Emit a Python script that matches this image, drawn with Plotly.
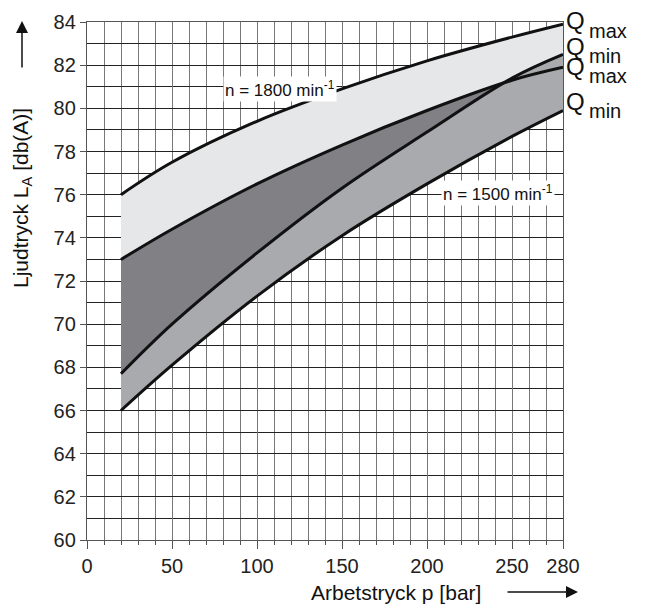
import plotly.graph_objects as go

# ---- data ----
pressure = [20, 50, 100, 150, 200, 250, 280]
n1800_qmax = [76.0, 77.5, 79.4, 80.9, 82.2, 83.3, 83.9]
n1800_qmin = [73.0, 74.4, 76.5, 78.3, 79.9, 81.3, 81.9]
n1500_qmax = [67.7, 70.0, 73.3, 76.3, 78.9, 81.4, 82.5]
n1500_qmin = [66.0, 68.1, 71.3, 74.1, 76.5, 78.7, 79.9]

x_tickvals = [0, 50, 100, 150, 200, 250, 280]
y_tickvals = list(range(60, 86, 2))

W, H = 669, 608
L, R, T, B = 87, 563, 22, 540
FONT = "Liberation Sans, Arial, sans-serif"

def px(xp):
    return (xp - L) / (R - L)

def py(yp):
    return (B - yp) / (B - T)

LIGHT = "#e6e7e9"
DARK = "#808085"
MED = "#a9aaae"

fig = go.Figure()
# fills (no lines)
fig.add_trace(go.Scatter(x=pressure, y=n1800_qmax, mode="lines", line=dict(width=0, shape="spline"),
                         showlegend=False, hoverinfo="skip"))
fig.add_trace(go.Scatter(x=pressure, y=n1800_qmin, mode="lines", line=dict(width=0, shape="spline"),
                         fill="tonexty", fillcolor=LIGHT, showlegend=False, hoverinfo="skip"))
fig.add_trace(go.Scatter(x=pressure, y=n1500_qmax, mode="lines", line=dict(width=0, shape="spline"),
                         fill="tonexty", fillcolor=DARK, showlegend=False, hoverinfo="skip"))
fig.add_trace(go.Scatter(x=pressure, y=n1500_qmin, mode="lines", line=dict(width=0, shape="spline"),
                         fill="tonexty", fillcolor=MED, showlegend=False, hoverinfo="skip"))
# curves
for ys in [n1800_qmax, n1800_qmin, n1500_qmax, n1500_qmin]:
    fig.add_trace(go.Scatter(x=pressure, y=ys, mode="lines",
                             line=dict(color="#111111", width=3, shape="spline"),
                             showlegend=False, hoverinfo="skip"))

annotations = []
# curve labels
annotations.append(dict(x=px(280), y=py(89), xref="paper", yref="paper", text="n = 1800 min<sup>-1</sup>",
                        showarrow=False, xanchor="center", yanchor="middle",
                        font=dict(family=FONT, size=17, color="#111"),
                        bgcolor="white", borderpad=1))
annotations.append(dict(x=px(498), y=py(193), xref="paper", yref="paper", text="n = 1500 min<sup>-1</sup>",
                        showarrow=False, xanchor="center", yanchor="middle",
                        font=dict(family=FONT, size=17, color="#111"),
                        bgcolor="white", borderpad=1))
# Q labels on the right
q_labels = [("max", 20, 31), ("min", 46, 56), ("max", 66, 76), ("min", 101, 111)]
for sub, qy, sy in q_labels:
    annotations.append(dict(x=px(564), y=py(qy), xref="paper", yref="paper", text="Q",
                            showarrow=False, xanchor="left", yanchor="middle",
                            font=dict(family=FONT, size=24, color="#111")))
    annotations.append(dict(x=px(587), y=py(sy), xref="paper", yref="paper", text=sub,
                            showarrow=False, xanchor="left", yanchor="middle",
                            font=dict(family=FONT, size=20, color="#111")))
# axis titles
annotations.append(dict(x=px(22), y=py(198), xref="paper", yref="paper",
                        text="Ljudtryck L<sub>A</sub> [db(A)]", textangle=-90, showarrow=False,
                        xanchor="center", yanchor="middle",
                        font=dict(family=FONT, size=21, color="#111")))
annotations.append(dict(x=px(396), y=py(592), xref="paper", yref="paper",
                        text="Arbetstryck p [bar]", showarrow=False,
                        xanchor="center", yanchor="middle",
                        font=dict(family=FONT, size=21, color="#111")))
# arrows
annotations.append(dict(x=px(22), y=py(21), xref="paper", yref="paper", text="",
                        showarrow=True, ax=0, ay=48, arrowhead=2, arrowsize=1.6,
                        arrowwidth=1.5, arrowcolor="#111"))
annotations.append(dict(x=px(578), y=py(592), xref="paper", yref="paper", text="",
                        showarrow=True, ax=-72, ay=0, arrowhead=2, arrowsize=1.6,
                        arrowwidth=1.5, arrowcolor="#111"))

fig.update_layout(
    width=W, height=H,
    margin=dict(l=L, r=W - R, t=T, b=H - B, pad=0),
    plot_bgcolor="white", paper_bgcolor="white",
    showlegend=False,
    annotations=annotations,
    font=dict(family=FONT, size=20, color="#222"),
)
fig.update_xaxes(
    range=[0, 280], tickvals=x_tickvals, ticktext=[str(v) for v in x_tickvals],
    showgrid=True, gridcolor="#777777", gridwidth=1.3,
    ticks="outside", ticklen=8, tickcolor="#555", tickwidth=1.3,
    showline=True, linecolor="#555", linewidth=1.3, mirror=True,
    minor=dict(dtick=10, tick0=0, showgrid=True, gridcolor="#777777", gridwidth=1.3,
               ticks="outside", ticklen=4, tickcolor="#555"),
    layer="above traces", zeroline=False,
    tickfont=dict(family=FONT, size=20, color="#222"),
)
fig.update_yaxes(
    range=[60, 84], tickvals=y_tickvals,
    showgrid=True, gridcolor="#222222", gridwidth=1,
    ticks="outside", ticklen=6, tickcolor="#555", tickwidth=1.3,
    showline=True, linecolor="#555", linewidth=1.3, mirror=True,
    minor=dict(dtick=1, tick0=60, showgrid=True, gridcolor="#222222", gridwidth=1),
    layer="above traces", zeroline=False,
    tickfont=dict(family=FONT, size=20, color="#222"),
)

fig.write_html("out.html")
